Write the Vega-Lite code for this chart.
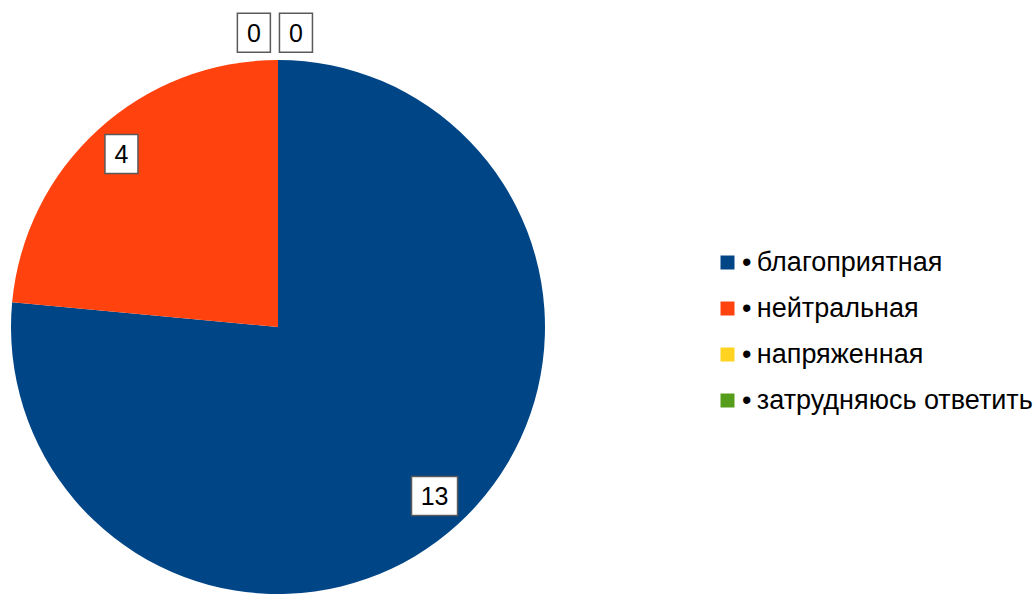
{
  "$schema": "https://vega.github.io/schema/vega-lite/v6.json",
  "width": 536,
  "height": 534,
  "padding": {"left": 10, "top": 10, "right": 0, "bottom": 0},
  "background": "white",
  "config": {"view": {"stroke": null}},
  "data": {
    "values": [
      {"category": "благоприятная", "value": 13},
      {"category": "нейтральная", "value": 4},
      {"category": "напряженная", "value": 0},
      {"category": "затрудняюсь ответить", "value": 0}
    ]
  },
  "transform": [
    {"window": [{"op": "row_number", "as": "idx"}]},
    {"joinaggregate": [{"op": "sum", "field": "value", "as": "total"}]},
    {"window": [{"op": "sum", "field": "value", "as": "cum"}], "sort": [{"field": "idx"}], "frame": [null, 0]},
    {"calculate": "2*PI*(datum.cum - datum.value/2)/datum.total", "as": "mid"}
  ],
  "layer": [
    {
      "mark": {"type": "arc"},
      "encoding": {
        "theta": {"field": "value", "type": "quantitative", "stack": true},
        "order": {"field": "idx", "type": "quantitative"},
        "color": {
          "field": "category",
          "type": "nominal",
          "sort": ["благоприятная", "нейтральная", "напряженная", "затрудняюсь ответить"],
          "scale": {
            "domain": ["благоприятная", "нейтральная", "напряженная", "затрудняюсь ответить"],
            "range": ["#004586", "#ff420e", "#ffd320", "#579d1c"]
          },
          "legend": {
            "orient": "none",
            "legendX": 704,
            "legendY": 189,
            "title": null,
            "symbolType": "square",
            "symbolSize": 196,
            "symbolStrokeWidth": 0,
            "symbolOpacity": 1,
            "labelFontSize": 27,
            "labelFont": "Liberation Sans",
            "labelColor": "black",
            "rowPadding": 18,
            "labelOffset": 1,
            "padding": 0,
            "labelLimit": 0,
            "labelExpr": "'•\u2009' + datum.label"
          }
        }
      }
    },
    {
      "transform": [
        {"calculate": "datum.value > 0 ? 0.867*sin(datum.mid) : (datum.idx == 3 ? -0.09 : 0.067)", "as": "lx"},
        {"calculate": "datum.value > 0 ? 0.867*cos(datum.mid) : 1.095", "as": "ly"}
      ],
      "encoding": {
        "x": {"field": "lx", "type": "quantitative", "scale": {"domain": [-1, 1]}, "axis": null},
        "y": {"field": "ly", "type": "quantitative", "scale": {"domain": [-1, 1]}, "axis": null}
      },
      "layer": [
        {
          "mark": {"type": "point", "filled": true, "fill": "white", "stroke": "#5a5a5a", "strokeWidth": 1.5, "opacity": 1, "size": 4, "yOffset": -2},
          "encoding": {
            "shape": {
              "condition": {"test": "datum.value >= 10", "value": "M-23,-19.5H23V19.5H-23Z"},
              "value": "M-16.5,-19.5H16.5V19.5H-16.5Z"
            }
          }
        },
        {
          "mark": {"type": "text", "font": "Liberation Sans", "fontSize": 25, "color": "black", "align": "center", "baseline": "middle", "dy": 1, "yOffset": -2},
          "encoding": {
            "text": {"field": "value", "type": "quantitative"}
          }
        }
      ]
    }
  ]
}
